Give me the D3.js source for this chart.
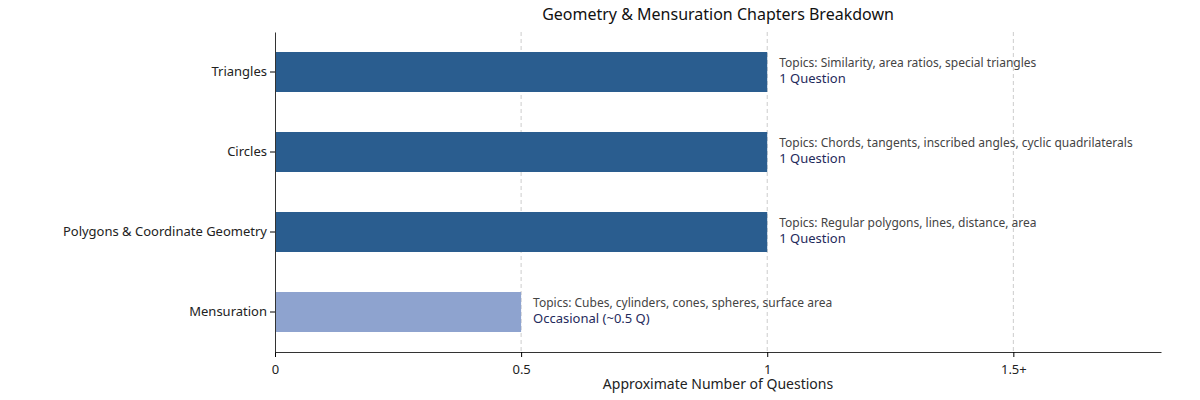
<!DOCTYPE html>
<html>
<head>
  <meta charset="utf-8">
  <script src="https://cdn.jsdelivr.net/npm/d3@7"></script>
  <style>
    body { margin: 0; background: #fff; font-family: "Noto Sans", sans-serif; }
  </style>
</head>
<body>
<svg id="chart" width="1200" height="400"></svg>
<script>
  const chapters = ["Triangles", "Circles", "Polygons & Coordinate Geometry", "Mensuration"];
  const questions = [1, 1, 1, 0.5];
  const topics = [
    "Topics: Similarity, area ratios, special triangles",
    "Topics: Chords, tangents, inscribed angles, cyclic quadrilaterals",
    "Topics: Regular polygons, lines, distance, area",
    "Topics: Cubes, cylinders, cones, spheres, surface area"
  ];
  const labels = ["1 Question", "1 Question", "1 Question", "Occasional (~0.5 Q)"];
  const tickVals = [0, 0.5, 1, 1.5];
  const tickText = ["0", "0.5", "1", "1.5+"];

  const svg = d3.select("#chart");
  const mLeft = 275, mRight = 1161, mTop = 32, mBottom = 352;

  const x = d3.scaleLinear().domain([0, 1.8]).range([mLeft, mRight]);
  const y = d3.scaleBand().domain(chapters).range([mTop, mBottom]).paddingInner(0.5).paddingOuter(0.25);

  // grid
  svg.selectAll("line.grid")
    .data(tickVals.slice(1))
    .enter().append("line")
    .attr("x1", d => x(d)).attr("x2", d => x(d))
    .attr("y1", mTop).attr("y2", mBottom)
    .attr("stroke", "#ccc").attr("stroke-dasharray", "4,3");

  svg.selectAll("rect.bar")
    .data(chapters)
    .enter().append("rect")
    .attr("x", x(0))
    .attr("y", d => y(d))
    .attr("height", y.bandwidth())
    .attr("width", (d, i) => x(questions[i]) - x(0))
    .attr("fill", (d, i) => questions[i] < 1 ? "#8ea3cf" : "#2a5d8f");

  const ann = svg.selectAll("g.ann").data(chapters).enter().append("g")
    .attr("transform", (d, i) => `translate(${x(questions[i]) + 12},${y(d) + y.bandwidth() / 2})`);
  ann.append("text").attr("y", -5).attr("font-size", 12).attr("fill", "#444")
    .text((d, i) => topics[i]);
  ann.append("text").attr("y", 11).attr("font-size", 13).attr("fill", "#1f2a5c")
    .text((d, i) => labels[i]);

  const xAxis = svg.append("g").attr("transform", `translate(0,${mBottom})`)
    .call(d3.axisBottom(x).tickValues(tickVals).tickFormat((d, i) => tickText[i]).tickSize(5).tickSizeOuter(0));
  xAxis.selectAll("text").attr("font-size", 13).attr("fill", "#222").attr("dy", "1.1em");
  xAxis.select(".domain").attr("stroke", "#333");

  const yAxis = svg.append("g").attr("transform", `translate(${mLeft},0)`)
    .call(d3.axisLeft(y).tickSize(5).tickSizeOuter(0));
  yAxis.selectAll("text").attr("font-size", 13).attr("fill", "#222");
  yAxis.select(".domain").attr("stroke", "#333");
  svg.selectAll(".tick text").attr("font-family", "Noto Sans, sans-serif");

  svg.append("text").attr("x", (mLeft + mRight) / 2).attr("y", 389)
    .attr("text-anchor", "middle").attr("font-size", 14).attr("fill", "#222")
    .text("Approximate Number of Questions");

  svg.append("text").attr("x", 718).attr("y", 20)
    .attr("text-anchor", "middle").attr("font-size", 16).attr("fill", "#111")
    .text("Geometry & Mensuration Chapters Breakdown");
</script>
</body>
</html>
